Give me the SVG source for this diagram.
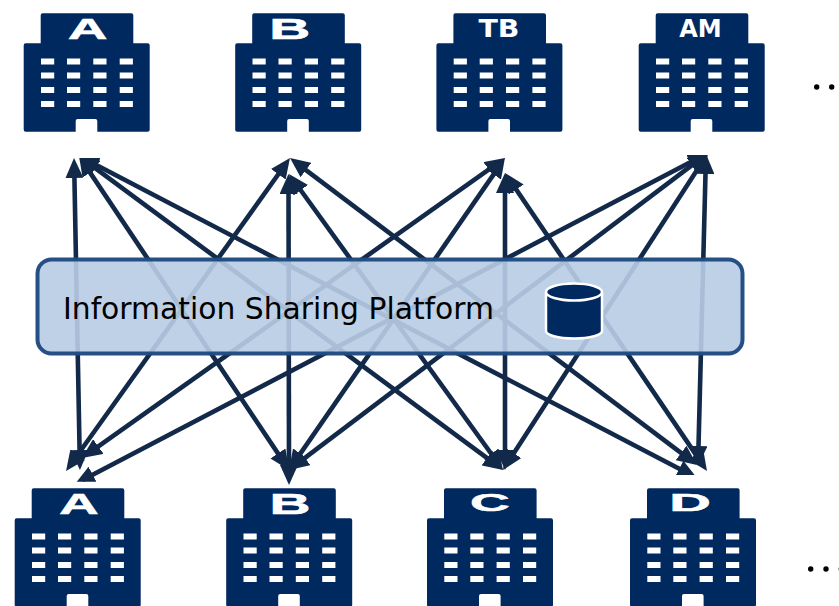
<svg xmlns="http://www.w3.org/2000/svg" width="839" height="606" viewBox="0 0 839 606">
<style>
.link{stroke:#12294a;stroke-width:4.6;fill:none;marker-start:url(#head);marker-end:url(#head)}
.big{font-family:"Liberation Sans",Arial,sans-serif;font-weight:700;font-size:29px;fill:#fff;stroke:#fff;stroke-width:.5;text-anchor:middle}
.big2{font-size:24.5px}
.small{font-family:"DejaVu Sans",Verdana,sans-serif;font-weight:700;font-size:24px;fill:#fff;text-anchor:middle}
.win{fill:#fff}
.dot{fill:#000}
</style>
<defs>
<marker id="head" markerUnits="userSpaceOnUse" markerWidth="20" markerHeight="18" refX="12" refY="9" orient="auto-start-reverse"><path d="M0,0L20,9L0,18Z" fill="#12294a"/></marker>
<clipPath id="clipA"><rect x="0" y="158" width="839" height="317"/></clipPath>
<clipPath id="clipM"><rect x="0" y="155" width="839" height="326.7"/></clipPath>
<g id="bldg">
<path fill="#002960" d="M42.7,13.300H131.300a2,2 0 0 1 2,2V43.300H147.700a2,2 0 0 1 2,2V129.700a2,2 0 0 1 -2,2H97.300V121a2,2 0 0 0 -2,-2H77.700a2,2 0 0 0 -2,2V131.700H25.700a2,2 0 0 1 -2,-2V45.300a2,2 0 0 1 2,-2H40.700V15.300a2,2 0 0 1 2,-2Z"/>
<g class="win">
<rect x="41" y="58.500" width="13.200" height="6"/><rect x="67" y="58.500" width="13.200" height="6"/><rect x="93.300" y="58.500" width="13.200" height="6"/><rect x="119.700" y="58.500" width="13.200" height="6"/>
<rect x="41" y="72.500" width="13.200" height="6"/><rect x="67" y="72.500" width="13.200" height="6"/><rect x="93.300" y="72.500" width="13.200" height="6"/><rect x="119.700" y="72.500" width="13.200" height="6"/>
<rect x="41" y="87" width="13.200" height="6"/><rect x="67" y="87" width="13.200" height="6"/><rect x="93.300" y="87" width="13.200" height="6"/><rect x="119.700" y="87" width="13.200" height="6"/>
<rect x="41" y="101" width="13.200" height="6"/><rect x="67" y="101" width="13.200" height="6"/><rect x="93.300" y="101" width="13.200" height="6"/><rect x="119.700" y="101" width="13.200" height="6"/>
</g>
</g>
</defs>
<g id="connectors">
<g clip-path="url(#clipA)">
<line class="link" x1="74.200" y1="166" x2="79.800" y2="462"/>
<line class="link" x1="83.400" y1="162.600" x2="284.600" y2="463.400"/>
<line class="link" x1="85.400" y1="160.800" x2="496.600" y2="465.200"/>
<line class="link" x1="86.100" y1="159.700" x2="689.900" y2="474.300"/>
</g>
<line class="link" x1="285.300" y1="164.500" x2="70.700" y2="464.500"/>
<line class="link" x1="288.500" y1="182" x2="289" y2="477"/>
<line class="link" x1="293.700" y1="180.500" x2="498.300" y2="463.500"/>
<line class="link" x1="296.400" y1="162.800" x2="690.600" y2="460.200"/>
<line class="link" x1="498.500" y1="162.600" x2="88.500" y2="453.400"/>
<line class="link" x1="500.400" y1="164.600" x2="293.600" y2="463.400"/>
<line class="link" x1="505" y1="181" x2="505" y2="462"/>
<line class="link" x1="509.500" y1="179.600" x2="702.500" y2="464.400"/>
<g clip-path="url(#clipM)">
<line class="link" x1="700.900" y1="156.700" x2="82.100" y2="480.300"/>
<line class="link" x1="701.600" y1="157.800" x2="295.400" y2="465.200"/>
<line class="link" x1="703.700" y1="159.700" x2="507.300" y2="463.300"/>
<line class="link" x1="705.800" y1="162" x2="698.200" y2="458"/>
</g>
</g>
<g id="platform">
<rect x="37.500" y="259.500" width="705" height="94" rx="14" fill="#b9cce5" fill-opacity=".91" stroke="#1f4a80" stroke-opacity=".97" stroke-width="4"/>
<text x="63" y="319" font-family="'DejaVu Sans',Verdana,sans-serif" font-size="30" fill="#000" textLength="431" lengthAdjust="spacingAndGlyphs">Information Sharing Platform</text>
<path d="M546,292V331C546,335 558,338.500 574,338.500S602,335 602,331V292" fill="#002960" stroke="#fff" stroke-width="2.500"/>
<ellipse cx="574" cy="292" rx="28" ry="8.500" fill="#002960" stroke="#fff" stroke-width="2.500"/>
</g>
<g id="top-a"><use href="#bldg"/><text class="big" transform="translate(87.700,39.300) scale(1.900,1)">A</text></g>
<g id="top-b"><use href="#bldg" x="211.500"/><text class="big" transform="translate(289.700,38.700) scale(1.960,1)">B</text></g>
<g id="top-tb"><use href="#bldg" x="412.700"/><text class="small" x="499" y="37" textLength="41" lengthAdjust="spacingAndGlyphs">TB</text></g>
<g id="top-am"><use href="#bldg" x="615"/><text class="small" x="700.500" y="37">AM</text></g>
<g id="bottom-a"><use href="#bldg" x="-9" y="475"/><text class="big" transform="translate(79,514.300) scale(1.900,1)">A</text></g>
<g id="bottom-b"><use href="#bldg" x="202.500" y="475"/><text class="big" transform="translate(290,514) scale(1.960,1)">B</text></g>
<g id="bottom-c"><use href="#bldg" x="403.300" y="475"/><text class="big big2" transform="translate(490,511) scale(2.250,1)">C</text></g>
<g id="bottom-d"><use href="#bldg" x="606.300" y="475"/><text class="big big2" transform="translate(690,510.700) scale(2.350,1)">D</text></g>
<g id="dots">
<circle class="dot" cx="816.700" cy="87" r="2.700"/><circle class="dot" cx="831.700" cy="87" r="2.700"/>
<circle class="dot" cx="810.700" cy="569" r="2.700"/><circle class="dot" cx="826" cy="569" r="2.700"/><circle class="dot" cx="841.300" cy="569" r="2.700"/>
</g>
</svg>
